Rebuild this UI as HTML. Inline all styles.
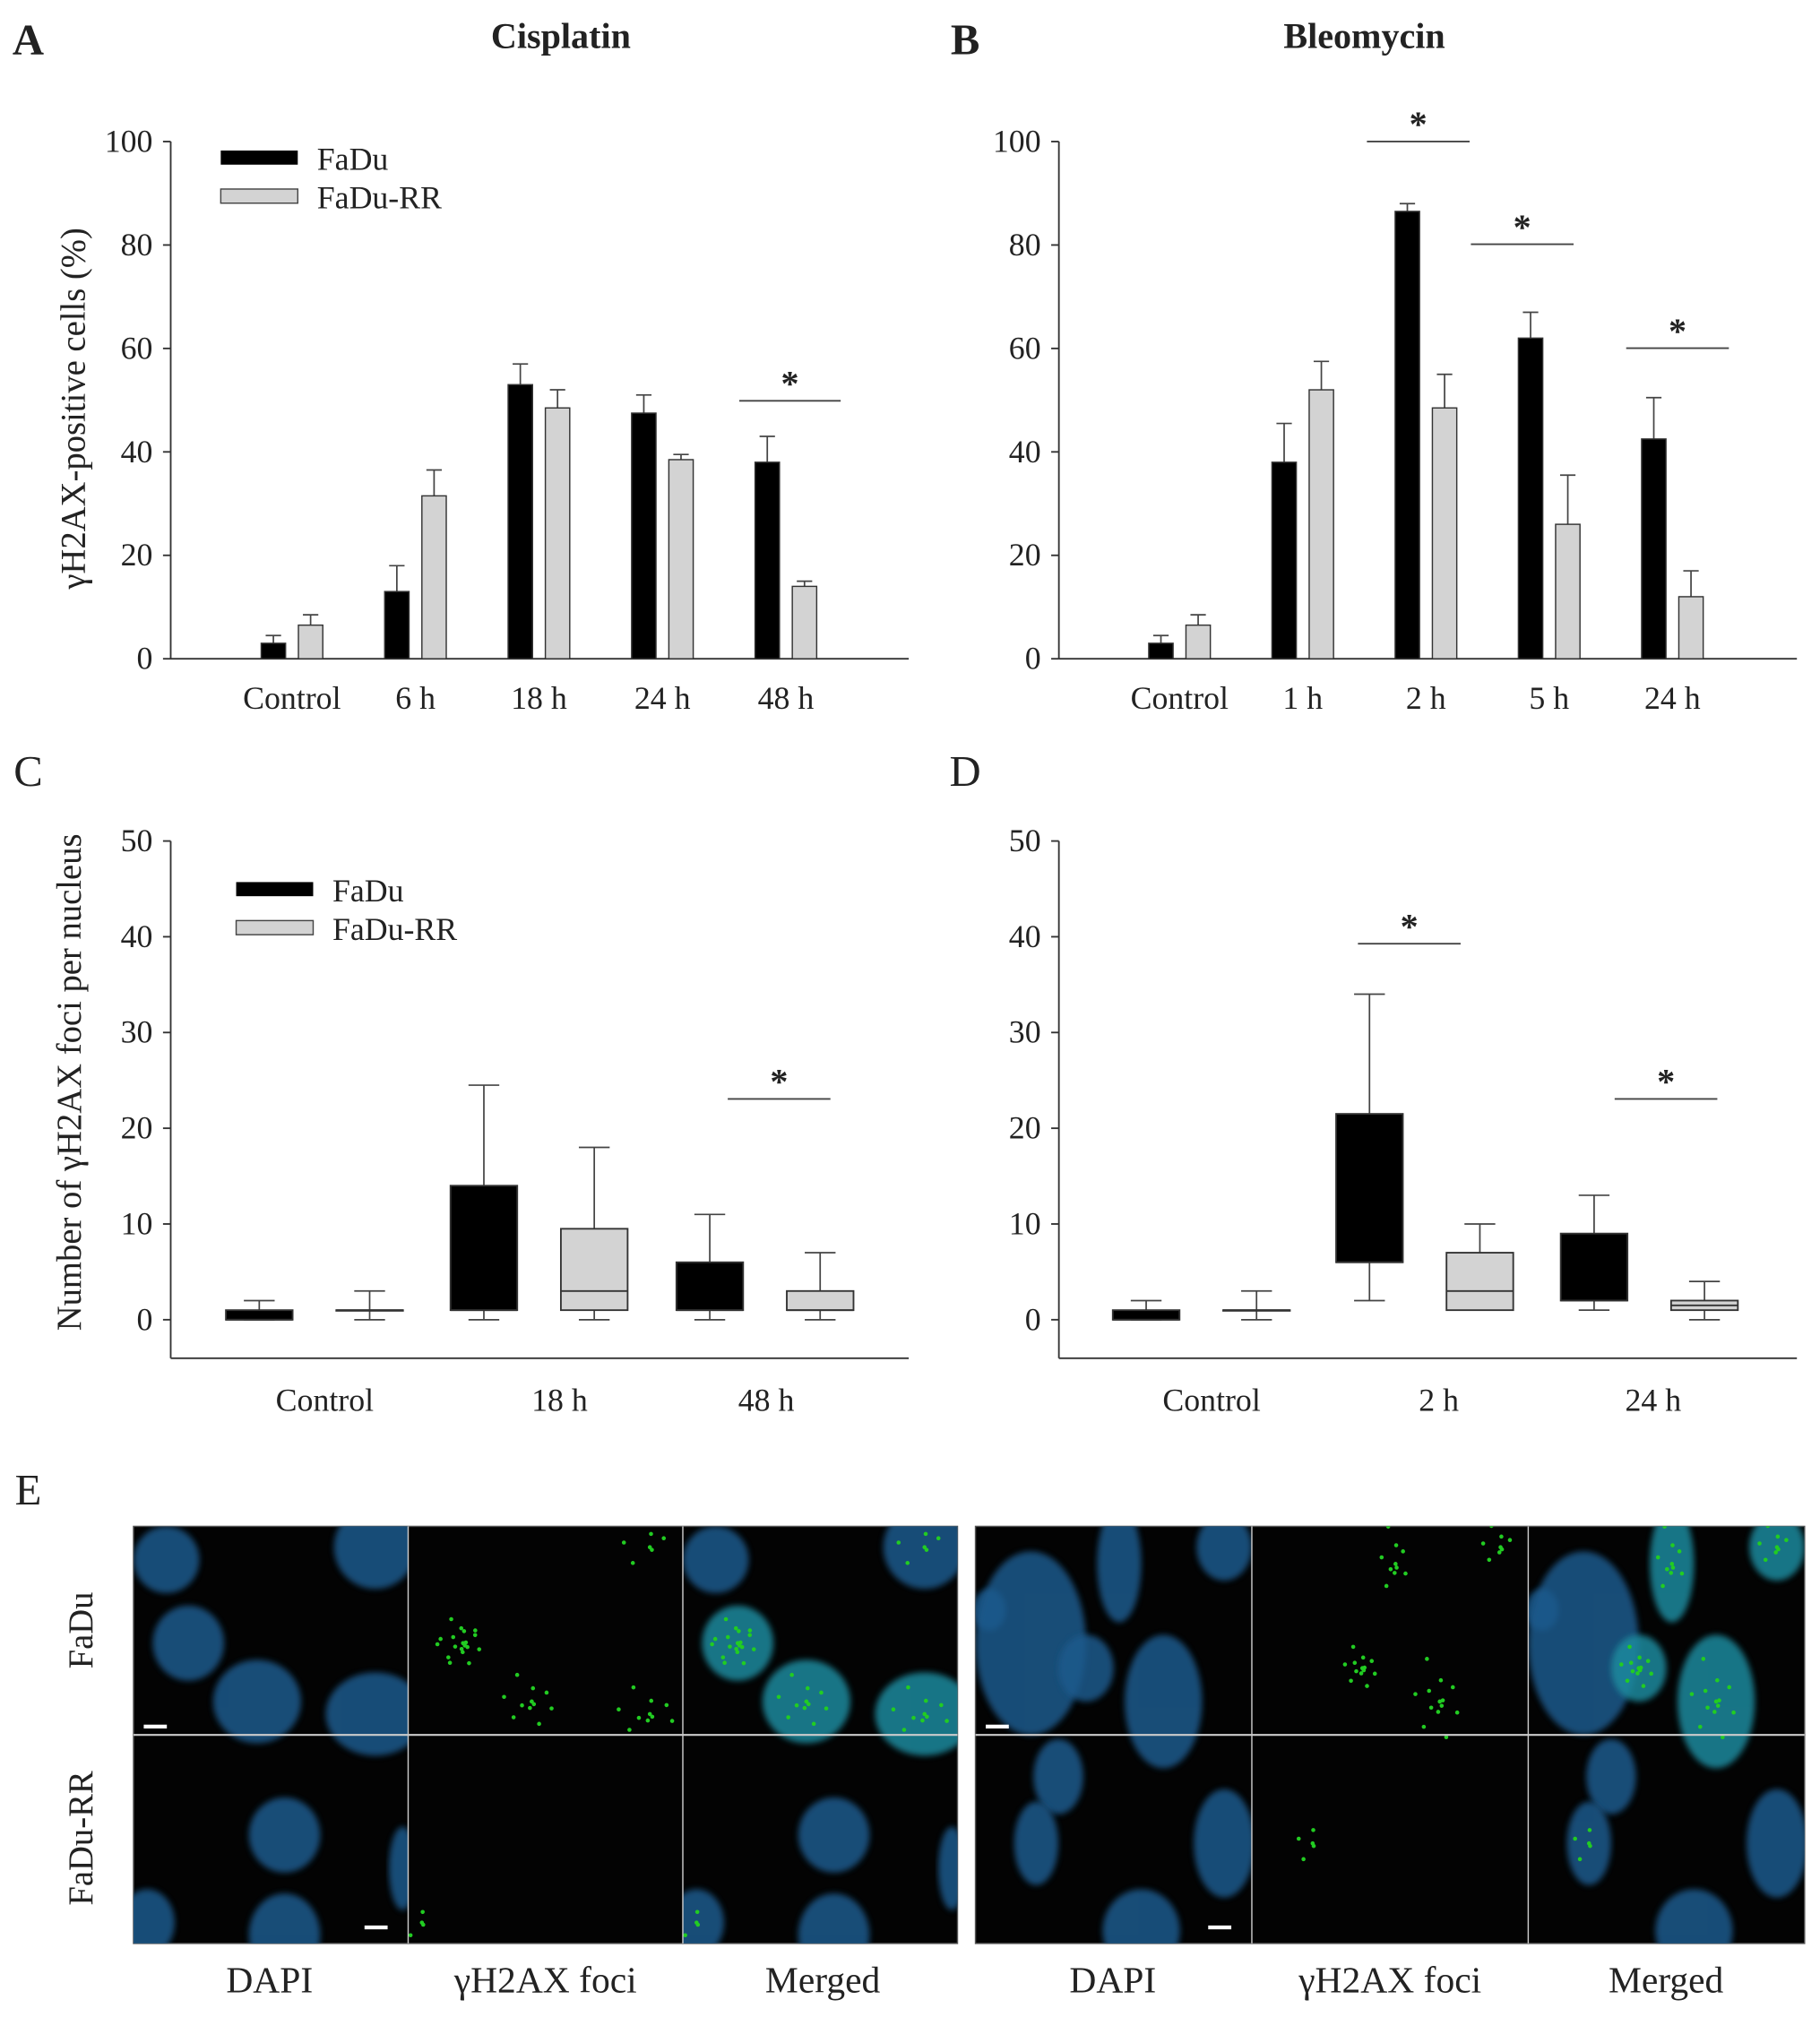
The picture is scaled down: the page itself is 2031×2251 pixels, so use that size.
<!DOCTYPE html>
<html><head><meta charset="utf-8"><style>
html,body{margin:0;padding:0;background:#fff;}
svg{display:block;}
svg text{font-family:"Liberation Serif","DejaVu Serif",serif;fill:#222;}
</style></head><body>
<svg id="fig" xmlns="http://www.w3.org/2000/svg" width="2031" height="2251" viewBox="0 0 1418 1571" font-family="Liberation Serif, serif">
<rect x="0" y="0" width="1418" height="1571" fill="#fff"/>
</svg>
<script>
// Panel A data (Cisplatin)
const catsA = ["Control","6 h","18 h","24 h","48 h"];
const fadA = [3, 13, 53, 47.5, 38];
const fadAErr = [4.5, 18, 57, 51, 43];
const rrA = [6.5, 31.5, 48.5, 38.5, 14];
const rrAErr = [8.5, 36.5, 52, 39.5, 15];
// Panel B data (Bleomycin)
const catsB = ["Control","1 h","2 h","5 h","24 h"];
const fadB = [3, 38, 86.5, 62, 42.5];
const fadBErr = [4.5, 45.5, 88, 67, 50.5];
const rrB = [6.5, 52, 48.5, 26, 12];
const rrBErr = [8.5, 57.5, 55, 35.5, 17];
const ticksAB = [0,20,40,60,80,100];
// Panel C box data: [whiskerLow, q1, median, q3, whiskerHigh]
const catsC = ["Control","18 h","48 h"];
const fadC = [[0,0,0,1,2],[0,1,1,14,24.5],[0,1,1,6,11]];
const rrC = [[0,1,1,1,3],[0,1,3,9.5,18],[0,1,1,3,7]];
// Panel D box data
const catsD = ["Control","2 h","24 h"];
const fadD = [[0,0,0,1,2],[2,6,6,21.5,34],[1,2,2,9,13]];
const rrD = [[0,1,1,1,3],[1,1,3,7,10],[0,1,1.5,2,4]];
const ticksCD = [0,10,20,30,40,50];

const NS="http://www.w3.org/2000/svg";
const svg=document.getElementById('fig');
const FF='Liberation Serif, DejaVu Serif, serif';
function el(tag,attrs,parent,txt){const e=document.createElementNS(NS,tag);for(const k in attrs)e.setAttribute(k,attrs[k]);if(tag==='text')e.setAttribute('font-family',FF);if(txt!==undefined)e.textContent=txt;(parent||svg).appendChild(e);return e;}

function axes(g,x0,x1,yTop,yBase,yAxisBottom,ticks,vmax,yScale){
  const ax=el('line',{x1:x0,y1:yTop,x2:x0,y2:yAxisBottom,stroke:'#333','stroke-width':1.3},g);
  
  
  const xa=el('line',{x1:x0,y1:yAxisBottom,x2:x1,y2:yAxisBottom,stroke:'#333','stroke-width':1.3},g);
  
  
  ticks.forEach(t=>{const y=yScale(t);
    el('line',{x1:x0-6,y1:y,x2:x0,y2:y,stroke:'#333','stroke-width':1.3},g);
    const tl=el('text',{x:x0-14,y:y+8,'text-anchor':'end','font-size':25},g,String(t));
    
    
  });
}
function sig(g,xa,xb,y){
  const l=el('line',{x1:xa,y1:y,x2:xb,y2:y,stroke:'#444','stroke-width':1.3},g);
  
  
  const s=el('text',{x:(xa+xb)/2,y:y-4,'text-anchor':'middle','font-size':28,'font-weight':'bold'},g,'*');
  
  
}
function legend(g,x,y){
  const r1=el('rect',{x:x,y:y,width:60,height:11,fill:'#000'},g);
  
  
  const t1=el('text',{x:x+75,y:y+15,'font-size':25},g,'FaDu');
  
  
  const r2=el('rect',{x:x,y:y+30,width:60,height:11,fill:'#d3d3d3',stroke:'#444','stroke-width':1},g);
  
  
  const t2=el('text',{x:x+75,y:y+45,'font-size':25},g,'FaDu-RR');
  
  
}
function label(txt,x,y,size,bold,name){const t=el('text',{x:x,y:y,'font-size':size,'font-weight':bold?'bold':'normal','text-anchor':'middle'},svg,txt);
  
  }

function barPanel(name,x0,cats,fad,fadE,rr,rrE,firstCenter,step){
  const g=el('g',{});
  
  
  const yScale=v=>513-v*4.03;
  axes(g,x0,x0+575,110,513,513,ticksAB,100,yScale);
  cats.forEach((c,i)=>{
    const cx=firstCenter+i*step;
    const cl=el('text',{x:cx,y:552,'text-anchor':'middle','font-size':25},g,c);
    
    
    [[fad[i],fadE[i],cx-14.5,'#000','fadu'],[rr[i],rrE[i],cx+14.5,'#d3d3d3','fadu-rr']].forEach(([v,e,bx,col,s])=>{
      const eb=el('line',{x1:bx,y1:yScale(v),x2:bx,y2:yScale(e),stroke:'#444','stroke-width':1.2},g);
      
      
      el('line',{x1:bx-6,y1:yScale(e),x2:bx+6,y2:yScale(e),stroke:'#444','stroke-width':1.2},g);
      const b=el('rect',{x:bx-9.5,y:yScale(v),width:19,height:513-yScale(v),fill:col,stroke:'#333','stroke-width':1},g);
      
      
    });
  });
  return g;
}
function boxPanel(name,x0,cats,fad,rr,fadCenters,labelCenters){
  const g=el('g',{});
  
  
  const yScale=v=>1028-v*7.46;
  axes(g,x0,x0+575,655,1028,1058,ticksCD,50,yScale);
  cats.forEach((c,i)=>{
    const cl=el('text',{x:labelCenters[i],y:1099,'text-anchor':'middle','font-size':25},g,c);
    
    
    [[fad[i],fadCenters[i],'#000','fadu'],[rr[i],fadCenters[i]+86,'#d3d3d3','fadu-rr']].forEach(([d,cx,col,s])=>{
      const [lo,q1,md,q3,hi]=d;
      el('line',{x1:cx,y1:yScale(hi),x2:cx,y2:yScale(lo),stroke:'#444','stroke-width':1.2},g);
      el('line',{x1:cx-12,y1:yScale(hi),x2:cx+12,y2:yScale(hi),stroke:'#444','stroke-width':1.2},g);
      el('line',{x1:cx-12,y1:yScale(lo),x2:cx+12,y2:yScale(lo),stroke:'#444','stroke-width':1.2},g);
      const b=el('rect',{x:cx-26,y:yScale(q3),width:52,height:Math.max(0.5,yScale(q1)-yScale(q3)),fill:col,stroke:'#333','stroke-width':1.3},g);
      
      
      el('line',{x1:cx-26,y1:yScale(md),x2:cx+26,y2:yScale(md),stroke:'#333','stroke-width':1.3},g);
    });
  });
  return g;
}

// Panel A
const gA=barPanel('panel-a-chart',133,catsA,fadA,fadAErr,rrA,rrAErr,227.5,96.2);
legend(gA,172,117);
sig(gA,576,655,312);
label('A',22,42,34,true,'panel-label-a');
label('Cisplatin',437,37,28,true,'chart-title-cisplatin');
let yt=el('text',{x:0,y:0,'font-size':27,'text-anchor':'middle',transform:'translate(66,318) rotate(-90)'},svg,'γH2AX-positive cells (%)');



// Panel B
const gB=barPanel('panel-b-chart',825,catsB,fadB,fadBErr,rrB,rrBErr,919,96);
sig(gB,1065,1145,110);
sig(gB,1146,1226,190);
sig(gB,1267,1347,271);
label('B',752,42,34,true,'panel-label-b');
label('Bleomycin',1063,37,28,true,'chart-title-bleomycin');

// Panel C
const gC=boxPanel('panel-c-chart',133,catsC,fadC,rrC,[202,377,553],[253,436,597]);
legend(gC,184,687);
sig(gC,567,647,856);
label('C',22,612,34,false,'panel-label-c');
yt=el('text',{x:0,y:0,'font-size':27,'text-anchor':'middle',transform:'translate(63,843) rotate(-90)'},svg,'Number of γH2AX foci per nucleus');



// Panel D
const gD=boxPanel('panel-d-chart',825,catsD,fadD,rrD,[893,1067,1242],[944,1121,1288]);
sig(gD,1058,1138,735);
sig(gD,1258,1338,856);
label('D',752,612,34,false,'panel-label-d');

// Panel E microscopy
label('E',22,1172,34,false,'panel-label-e');
const defs=el('defs',{});
const f=el('filter',{id:'blur'},defs);el('feGaussianBlur',{stdDeviation:2.5},f);
function block(name,x,y,w,h,cells){
  const g=el('g',{});
  
  
  el('rect',{x:x,y:y,width:w,height:h,fill:'#030303',stroke:'#555','stroke-width':1},g);
  const cw=w/3, ch=h/2;
  const cp=el('clipPath',{id:name+'-clip'},defs);
  for(let col=0;col<3;col++){}
  for(let col=0;col<3;col++){
    const cpc=el('clipPath',{id:name+'-clip'+col},defs);el('rect',{x:x+col*cw,y:y,width:cw,height:h},cpc);
    const inner=el('g',{'clip-path':'url(#'+name+'-clip'+col+')'},g);
    cells.forEach(n=>{
      const cx=x+col*cw+n[0]*cw, cy=y+n[1]*h;
      if(col!==1) el('ellipse',{cx:cx,cy:cy,rx:n[2]*cw,ry:n[3]*h,fill:col===2&&n[4]>6?'#1f8a9e':'#1a5a8c',opacity:0.85,filter:'url(#blur)'},inner);
      if(n[4]&&col>0){for(let k=0;k<n[4];k++){const a=k*2.4,r=((k*7)%10)/10;
        el('circle',{cx:cx+Math.cos(a)*r*n[2]*cw*0.8,cy:cy+Math.sin(a)*r*n[3]*h*0.8,r:1.6,fill:'#2c2'},inner);}}
    });
  }
  el('line',{x1:x+cw,y1:y,x2:x+cw,y2:y+h,stroke:'#ccc','stroke-width':1},g);
  el('line',{x1:x+2*cw,y1:y,x2:x+2*cw,y2:y+h,stroke:'#ccc','stroke-width':1},g);
  el('line',{x1:x,y1:y+ch,x2:x+w,y2:y+ch,stroke:'#ccc','stroke-width':1.5},g);
  el('rect',{x:x+8,y:y+ch-8,width:18,height:3,fill:'#fff'},g);
  el('rect',{x:x+cw-34,y:y+h-14,width:18,height:3,fill:'#fff'},g);
  return g;
}
// nuclei: [fracX in cell, fracY in block, rxFrac, ryFrac, fociCount]
block('microscopy-cisplatin',104,1189,642,325,[[0.12,0.08,0.12,0.08,0],[0.88,0.05,0.15,0.1,6],[0.2,0.28,0.13,0.09,20],[0.45,0.42,0.16,0.1,12],[0.88,0.45,0.18,0.1,10],[0.55,0.74,0.13,0.09,0],[0.05,0.95,0.1,0.08,4],[0.55,0.98,0.13,0.1,0],[0.98,0.82,0.05,0.1,0]]);
block('microscopy-bleomycin',760,1189,646,325,[[0.52,0.09,0.08,0.14,10],[0.9,0.05,0.1,0.08,8],[0.05,0.2,0.06,0.05,0],[0.2,0.28,0.2,0.22,0],[0.4,0.34,0.1,0.08,14],[0.68,0.42,0.14,0.16,14],[0.3,0.6,0.09,0.09,0],[0.22,0.76,0.08,0.1,5],[0.9,0.76,0.11,0.13,0],[0.6,0.97,0.14,0.1,0]]);
yt=el('text',{x:0,y:0,'font-size':27,'text-anchor':'middle',transform:'translate(72,1270) rotate(-90)'},svg,'FaDu');


yt=el('text',{x:0,y:0,'font-size':27,'text-anchor':'middle',transform:'translate(72,1432) rotate(-90)'},svg,'FaDu-RR');


[['DAPI',210],['γH2AX foci',425],['Merged',641],['DAPI',867],['γH2AX foci',1083],['Merged',1298]].forEach(([t,x])=>label(t,x,1552,29,false,'column-label'));
</script>
</body></html>
